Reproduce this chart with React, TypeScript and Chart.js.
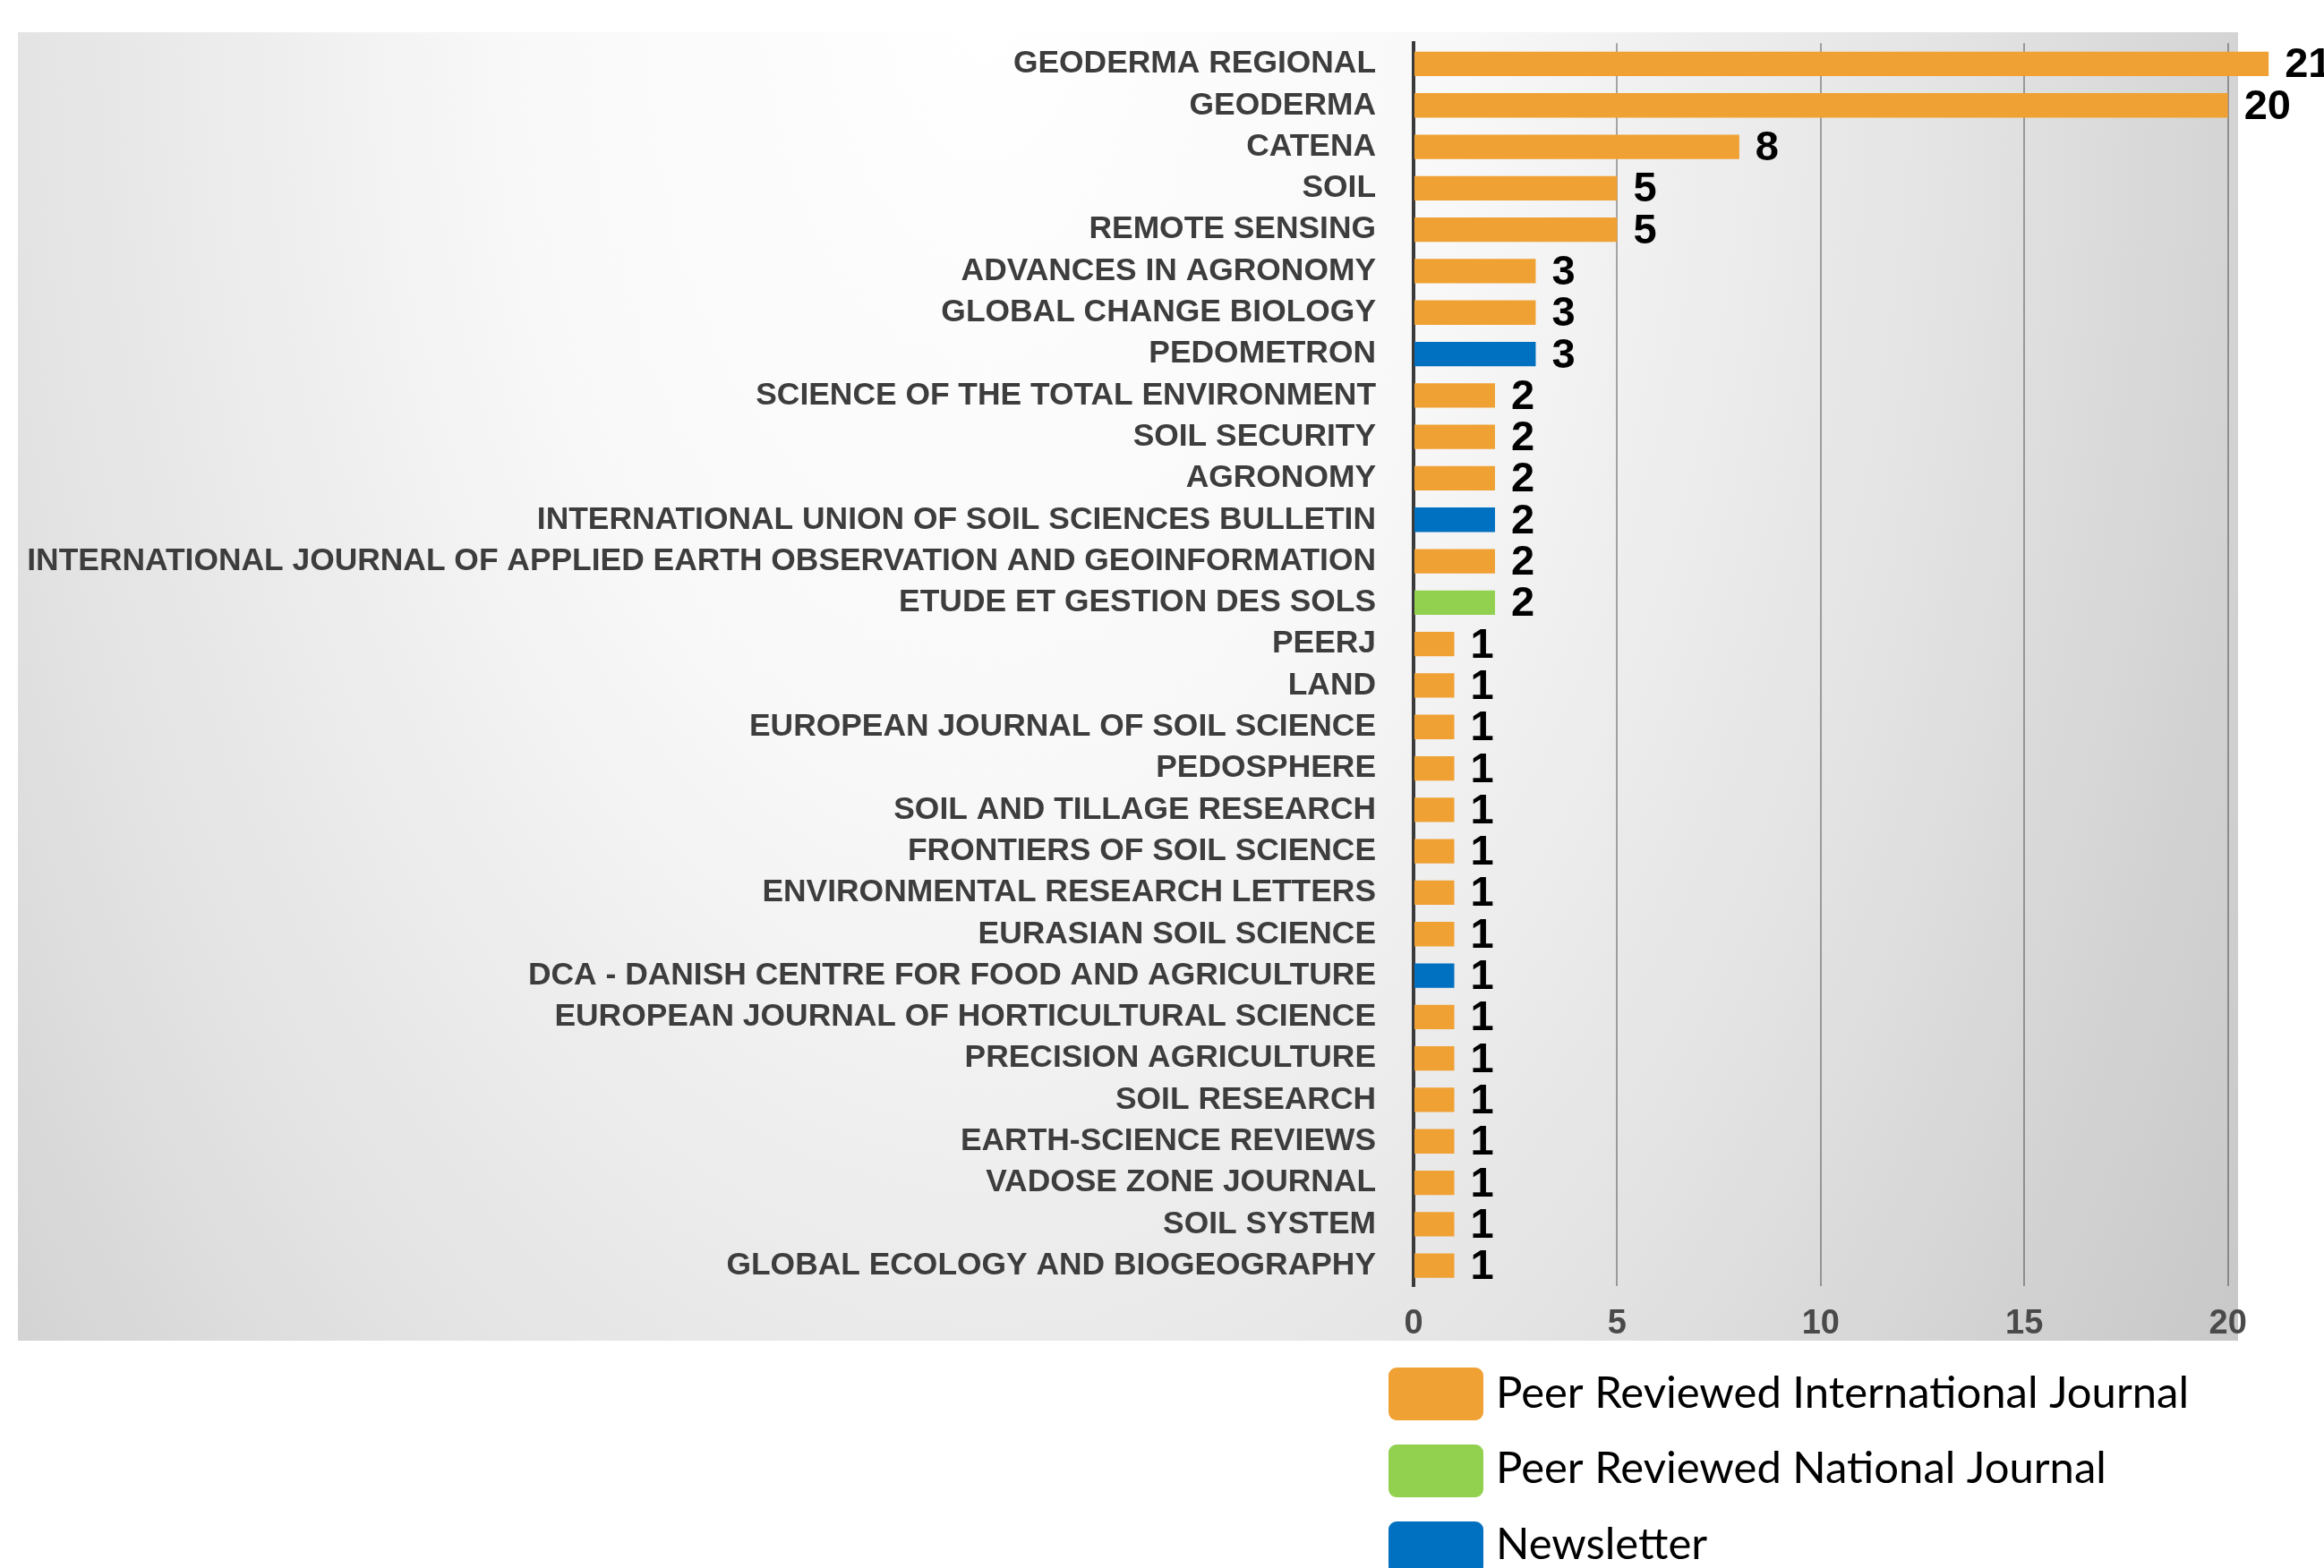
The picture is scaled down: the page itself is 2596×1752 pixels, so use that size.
import React, { useEffect, useRef } from "react";
import { Chart, registerables } from "chart.js";

Chart.register(...registerables);

const journals = [
  "GEODERMA REGIONAL",
  "GEODERMA",
  "CATENA",
  "SOIL",
  "REMOTE SENSING",
  "ADVANCES IN AGRONOMY",
  "GLOBAL CHANGE BIOLOGY",
  "PEDOMETRON",
  "SCIENCE OF THE TOTAL ENVIRONMENT",
  "SOIL SECURITY",
  "AGRONOMY",
  "INTERNATIONAL UNION OF SOIL SCIENCES BULLETIN",
  "INTERNATIONAL JOURNAL OF APPLIED EARTH OBSERVATION AND GEOINFORMATION",
  "ETUDE ET GESTION DES SOLS",
  "PEERJ",
  "LAND",
  "EUROPEAN JOURNAL OF SOIL SCIENCE",
  "PEDOSPHERE",
  "SOIL AND TILLAGE RESEARCH",
  "FRONTIERS OF SOIL SCIENCE",
  "ENVIRONMENTAL RESEARCH LETTERS",
  "EURASIAN SOIL SCIENCE",
  "DCA - DANISH CENTRE FOR FOOD AND AGRICULTURE",
  "EUROPEAN JOURNAL OF HORTICULTURAL SCIENCE",
  "PRECISION AGRICULTURE",
  "SOIL RESEARCH",
  "EARTH-SCIENCE REVIEWS",
  "VADOSE ZONE JOURNAL",
  "SOIL SYSTEM",
  "GLOBAL ECOLOGY AND BIOGEOGRAPHY",
];

const publications = [21, 20, 8, 5, 5, 3, 3, 3, 2, 2, 2, 2, 2, 2, 1, 1, 1, 1, 1, 1, 1, 1, 1, 1, 1, 1, 1, 1, 1, 1];

// I = Peer Reviewed International Journal, N = Peer Reviewed National Journal, B = Newsletter
const journalTypes = ["I", "I", "I", "I", "I", "I", "I", "B", "I", "I", "I", "B", "I", "N", "I", "I", "I", "I", "I", "I", "I", "I", "B", "I", "I", "I", "I", "I", "I", "I"];

const typeKeys = ["I", "N", "B"];
const typeNames = ["Peer Reviewed International Journal", "Peer Reviewed National Journal", "Newsletter"];
const typeColors = ["#f0a134", "#92d050", "#0070c0"];

const xTicks = [0, 5, 10, 15, 20];

const W = 2596;
const H = 1752;

export default function App() {
  const ref = useRef<HTMLCanvasElement | null>(null);

  useEffect(() => {
    const canvas = ref.current;
    if (!canvas) return;
    document.body.style.margin = "0";

    const colorFor = (t: string) => typeColors[typeKeys.indexOf(t)];

    const bgPlugin = {
      id: "bgPanel",
      beforeDraw(chart: any) {
        const ctx = chart.ctx;
        ctx.save();
        ctx.fillStyle = "#ffffff";
        ctx.fillRect(0, 0, W, H);
        const x0 = 20, y0 = 36, x1 = W, y1 = 1498;
        ctx.beginPath();
        ctx.rect(x0, y0, x1 - x0, y1 - y0);
        ctx.clip();
        ctx.translate(1100, 0);
        ctx.scale(1, 1.65);
        const g = ctx.createRadialGradient(0, 0, 0, 0, 0, 1800);
        g.addColorStop(0, "#ffffff");
        g.addColorStop(0.3, "#f8f8f8");
        g.addColorStop(0.62, "#e2e2e2");
        g.addColorStop(0.8, "#d2d2d2");
        g.addColorStop(1, "#c2c2c2");
        ctx.fillStyle = g;
        ctx.fillRect(-1200, -100, 2600, 1200);
        ctx.restore();
      },
    };

    const valuePlugin = {
      id: "values",
      afterDatasetsDraw(chart: any) {
        const ctx = chart.ctx;
        const meta = chart.getDatasetMeta(0);
        ctx.save();
        ctx.font = 'bold 47px "Liberation Sans", Arial, sans-serif';
        ctx.fillStyle = "#000000";
        ctx.textAlign = "left";
        ctx.textBaseline = "middle";
        meta.data.forEach((bar: any, i: number) => {
          ctx.fillText(String(publications[i]), bar.x + 18, bar.y + 2);
        });
        ctx.restore();
      },
    };

    const legendPlugin = {
      id: "customLegend",
      afterDraw(chart: any) {
        const ctx = chart.ctx;
        ctx.save();
        const tops = [1528, 1614, 1700];
        const baselines = [1573, 1657, 1742];
        typeNames.forEach((name, i) => {
          ctx.fillStyle = typeColors[i];
          ctx.beginPath();
          (ctx as any).roundRect(1551, tops[i], 106, 59, 9);
          ctx.fill();
          ctx.fillStyle = "#000000";
          ctx.font = '49px Lato, "Open Sans", sans-serif';
          ctx.textAlign = "left";
          ctx.textBaseline = "alphabetic";
          ctx.fillText(name, 1671, baselines[i]);
        });
        ctx.restore();
      },
    };

    const chart = new Chart(canvas, {
      type: "bar",
      data: {
        labels: journals,
        datasets: [
          {
            data: publications,
            backgroundColor: journalTypes.map(colorFor),
            borderWidth: 0,
            barPercentage: 0.59,
            categoryPercentage: 1,
          },
        ],
      },
      options: {
        indexAxis: "y",
        animation: false,
        responsive: false,
        devicePixelRatio: 1,
        layout: { padding: { left: 0, right: 0, top: 48.3, bottom: 0 } },
        plugins: {
          legend: { display: false },
          tooltip: { enabled: false },
        },
        scales: {
          x: {
            type: "linear",
            min: 0,
            max: 22.36,
            afterBuildTicks: (scale: any) => {
              scale.ticks = xTicks.map((v) => ({ value: v }));
            },
            afterFit: (scale: any) => {
              scale.height = H - 1437.3;
              scale.paddingLeft = 0;
              scale.paddingRight = 0;
            },
            grid: {
              color: (c: any) => (c.tick && c.tick.value === 0 ? "rgba(0,0,0,0)" : "rgba(0,0,0,0.32)"),
              lineWidth: 2,
              drawTicks: false,
            },
            border: { display: false },
            ticks: {
              padding: 19,
              color: "#4a4a4a",
              font: { family: '"Liberation Sans", Arial, sans-serif', size: 38, weight: "bold" },
              maxRotation: 0,
            },
          },
          y: {
            afterFit: (scale: any) => {
              scale.width = 1579;
              scale.paddingTop = 0;
              scale.paddingBottom = 0;
            },
            grid: { display: false, drawTicks: false },
            border: { display: true, color: "#3a3a3a", width: 4 },
            ticks: {
              autoSkip: false,
              padding: 42,
              color: "#3d3d3d",
              font: { family: '"Liberation Sans", Arial, sans-serif', size: 35.4, weight: "bold" },
            },
          },
        },
      },
      plugins: [bgPlugin, valuePlugin, legendPlugin],
    } as any);

    return () => {
      chart.destroy();
    };
  }, []);

  return (
    <div style={{ position: "absolute", left: 0, top: 0, width: W, height: H }}>
      <canvas ref={ref} width={W} height={H} style={{ width: W, height: H, display: "block" }} />
    </div>
  );
}
